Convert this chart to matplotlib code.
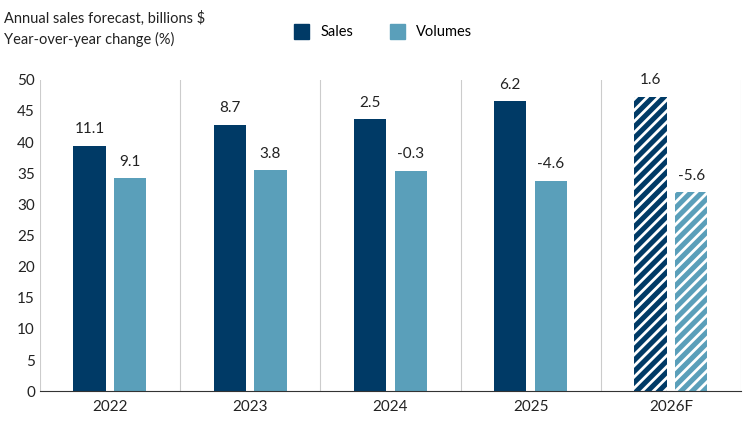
import matplotlib
matplotlib.use("Agg")
import matplotlib.pyplot as plt
from matplotlib.patches import Patch
import numpy as np

plt.rcParams['font.family'] = ['Lato', 'DejaVu Sans']
plt.rcParams['hatch.color'] = 'white'
plt.rcParams['hatch.linewidth'] = 2.0

years = ["2022", "2023", "2024", "2025", "2026F"]
sales = [39.4, 42.8, 43.7, 46.6, 47.3]
volumes = [34.2, 35.5, 35.4, 33.8, 32.0]
sales_chg = ["11.1", "8.7", "2.5", "6.2", "1.6"]
vol_chg = ["9.1", "3.8", "-0.3", "-4.6", "-5.6"]

dark = "#003A66"
light = "#5A9FBA"

fig = plt.figure(figsize=(7.5, 4.22), dpi=100)
ax = fig.add_axes([0.053, 0.073, 0.935, 0.738])
x = np.arange(len(years))
w = 0.23
off = 0.145
for i in range(len(years)):
    hatch = '///' if years[i].endswith('F') else None
    ax.bar(x[i] - off, sales[i], w, color=dark, hatch=hatch, edgecolor='white' if hatch else dark, linewidth=0)
    ax.bar(x[i] + off, volumes[i], w, color=light, hatch=hatch, edgecolor='white' if hatch else light, linewidth=0)
    ax.text(x[i] - off, sales[i] + 1.5, sales_chg[i], ha='center', va='bottom', fontsize=11, color='#222222')
    ax.text(x[i] + off, volumes[i] + 1.5, vol_chg[i], ha='center', va='bottom', fontsize=11, color='#222222')

ax.set_xlim(-0.5, len(years) - 0.5)
ax.set_ylim(0, 50)
ax.set_yticks(range(0, 51, 5))
ax.set_xticks(x)
ax.set_xticklabels(years)
for xb in np.arange(-0.5, len(years), 1.0):
    ax.axvline(xb, color='#cccccc', lw=0.8, zorder=0)
for s in ['top', 'right', 'left']:
    ax.spines[s].set_visible(False)
ax.spines['bottom'].set_color('#333333')
ax.tick_params(axis='both', length=0, labelsize=11, colors='#222222')
ax.tick_params(axis='x', pad=6)

fig.text(0.005, 0.975, "Annual sales forecast, billions $", fontsize=10.5, va='top', color='#222222')
fig.text(0.005, 0.925, "Year-over-year change (%)", fontsize=10.5, va='top', color='#222222')
handles = [Patch(color=dark, label='Sales'), Patch(color=light, label='Volumes')]
fig.legend(handles=handles, loc='upper left', bbox_to_anchor=(0.375, 0.975), ncol=2, frameon=False,
           fontsize=10.5, handlelength=1.0, handleheight=1.2, columnspacing=2.5)
fig.savefig("out.png", dpi=100)
